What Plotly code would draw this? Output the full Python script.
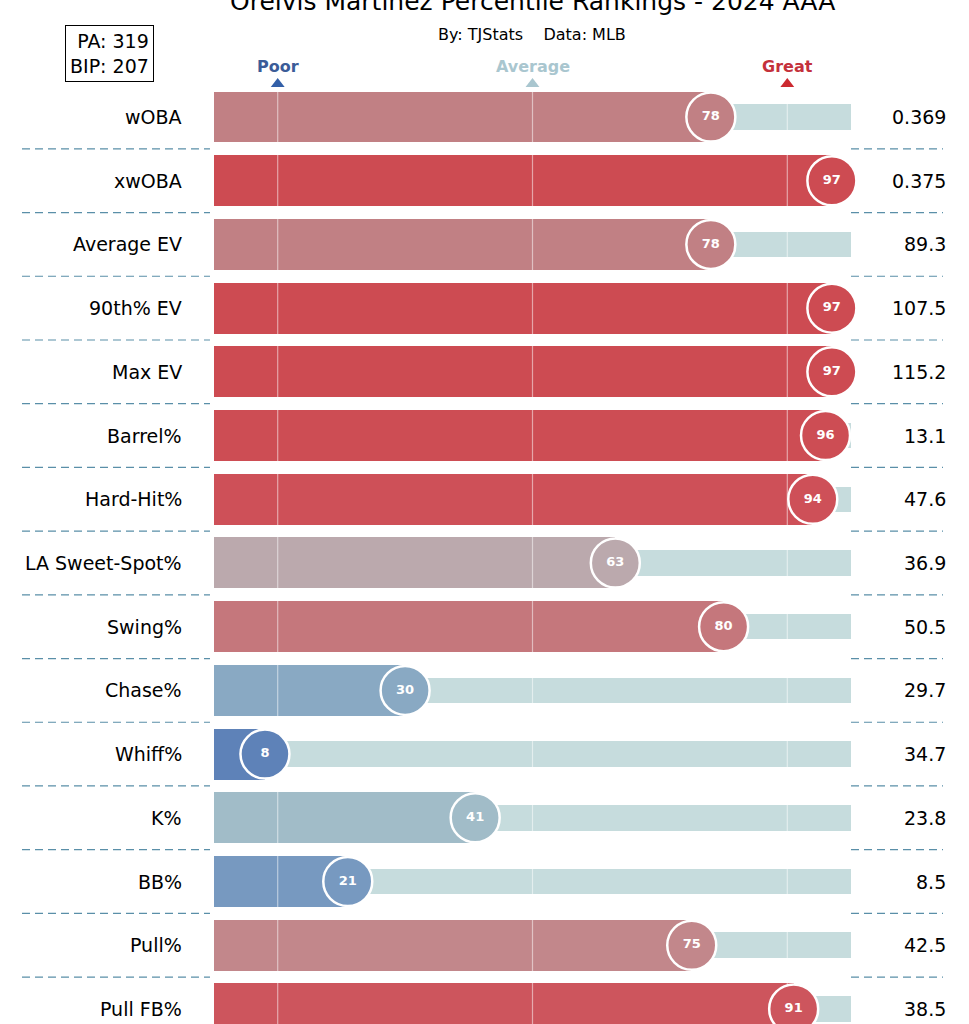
import plotly.graph_objects as go

# ---- data ----
metrics = ["wOBA", "xwOBA", "Average EV", "90th% EV", "Max EV", "Barrel%", "Hard-Hit%",
           "LA Sweet-Spot%", "Swing%", "Chase%", "Whiff%", "K%", "BB%", "Pull%", "Pull FB%"]
percentiles = [78, 97, 78, 97, 97, 96, 94, 63, 80, 30, 8, 41, 21, 75, 91]
stat_values = ["0.369", "0.375", "89.3", "107.5", "115.2", "13.1", "47.6", "36.9",
               "50.5", "29.7", "34.7", "23.8", "8.5", "42.5", "38.5"]
benchmarks = [10, 50, 90]
benchmark_labels = ["Poor", "Average", "Great"]
title = "Orelvis Martinez Percentile Rankings - 2024 AAA"
subtitle = "By: TJStats\u00a0\u00a0\u00a0\u00a0Data: MLB"
pa, bip = 319, 207

# ---- style ----
FONT = "DejaVu Sans"
W, H = 969, 1024
X0_PX, X100_PX = 214, 851
ROW0_PX, ROW_STEP = 117, 63.71
ppu = (X100_PX - X0_PX) / 100.0
xmin = -X0_PX / ppu
xmax = xmin + W / ppu
ytop = -ROW0_PX / ROW_STEP
ybot = (H - ROW0_PX) / ROW_STEP

colorscale = [
    [0.00, "#4a6fae"], [0.08, "#5e82b8"], [0.21, "#7799c0"], [0.30, "#89a9c3"],
    [0.41, "#a1bcc8"], [0.50, "#c0c9cd"], [0.63, "#bba9ad"], [0.75, "#c2878b"],
    [0.78, "#c18084"], [0.80, "#c5777c"], [0.91, "#cd555d"], [0.94, "#ce5058"],
    [0.97, "#cd4b52"], [1.00, "#cc4650"],
]
bench_text_colors = ["#3b5c98", "#a9c6cf", "#c4313b"]
bench_tri_colors = ["#3360a8", "#a9c6cf", "#cc2a30"]

rows = list(range(len(metrics)))

fig = go.Figure()

# background bars (0..100)
fig.add_trace(go.Bar(
    y=rows, x=[100] * len(rows), orientation="h", width=0.4,
    marker=dict(color="#c6dcdd", line=dict(width=0)),
    hoverinfo="skip", showlegend=False))

# percentile bars
fig.add_trace(go.Bar(
    y=rows, x=percentiles, orientation="h", width=0.8,
    marker=dict(color=percentiles, colorscale=colorscale, cmin=0, cmax=100, line=dict(width=0)),
    hoverinfo="skip", showlegend=False))

# benchmark vertical lines
for b in benchmarks:
    fig.add_trace(go.Scatter(
        x=[b, b], y=[-0.42, len(rows) - 0.5], mode="lines",
        line=dict(color="rgba(255,255,255,0.5)", width=1.2),
        hoverinfo="skip", showlegend=False))

# circles
fig.add_trace(go.Scatter(
    x=percentiles, y=rows, mode="markers+text",
    marker=dict(size=49, color=percentiles, colorscale=colorscale, cmin=0, cmax=100,
                line=dict(color="white", width=2.5)),
    text=[str(p) for p in percentiles], textposition="middle center",
    textfont=dict(family=FONT, size=13, color="white", weight="bold"),
    hoverinfo="skip", showlegend=False))

# benchmark triangles
tri_y = (84 - ROW0_PX) / ROW_STEP
fig.add_trace(go.Scatter(
    x=benchmarks, y=[tri_y] * len(benchmarks), mode="markers",
    marker=dict(symbol="triangle-up", size=12, color=bench_tri_colors, line=dict(width=0)),
    hoverinfo="skip", showlegend=False))

annotations = []
lab_y = (66 - ROW0_PX) / ROW_STEP
for b, lab, c in zip(benchmarks, benchmark_labels, bench_text_colors):
    annotations.append(dict(x=b, y=lab_y, xref="x", yref="y", text=f"<b>{lab}</b>",
                            showarrow=False, font=dict(family=FONT, size=16, color=c),
                            xanchor="center", yanchor="middle"))

for i, (m, v) in enumerate(zip(metrics, stat_values)):
    annotations.append(dict(x=184 / W, y=i, xref="paper", yref="y", text=m, showarrow=False,
                            font=dict(family=FONT, size=19, color="black"),
                            xanchor="right", yanchor="middle"))
    annotations.append(dict(x=948 / W, y=i, xref="paper", yref="y", text=v, showarrow=False,
                            font=dict(family=FONT, size=19, color="black"),
                            xanchor="right", yanchor="middle"))

annotations.append(dict(x=532 / W, y=1 - 1 / H, xref="paper", yref="paper", text=title,
                        showarrow=False, font=dict(family=FONT, size=25, color="black"),
                        xanchor="center", yanchor="middle"))
annotations.append(dict(x=532 / W, y=1 - 34 / H, xref="paper", yref="paper", text=subtitle,
                        showarrow=False, font=dict(family=FONT, size=16, color="black"),
                        xanchor="center", yanchor="middle"))
annotations.append(dict(x=109.5 / W, y=1 - 53 / H, xref="paper", yref="paper",
                        text=f"PA: {pa}<br>BIP: {bip}", align="right",
                        showarrow=False, font=dict(family=FONT, size=19, color="black"),
                        bordercolor="black", borderwidth=1, borderpad=4, bgcolor="white",
                        xanchor="center", yanchor="middle"))

shapes = []
for i in range(len(rows) - 1):
    yy = i + 0.5
    for xa, xb in [(22, 210), (851, 943)]:
        shapes.append(dict(type="line", xref="paper", yref="y", x0=xa / W, x1=xb / W,
                           y0=yy, y1=yy, line=dict(color="#5a8fa8", width=1.2, dash="8px,5px")))

fig.update_layout(
    width=W, height=H, margin=dict(l=0, r=0, t=0, b=0),
    paper_bgcolor="white", plot_bgcolor="white",
    barmode="overlay", bargap=0,
    xaxis=dict(range=[xmin, xmax], visible=False, fixedrange=True),
    yaxis=dict(range=[ybot, ytop], visible=False, fixedrange=True),
    annotations=annotations, shapes=shapes,
    font=dict(family=FONT),
)

fig.write_html("out.html", config={"displayModeBar": False},
               post_script="document.body.style.margin='0px';")
